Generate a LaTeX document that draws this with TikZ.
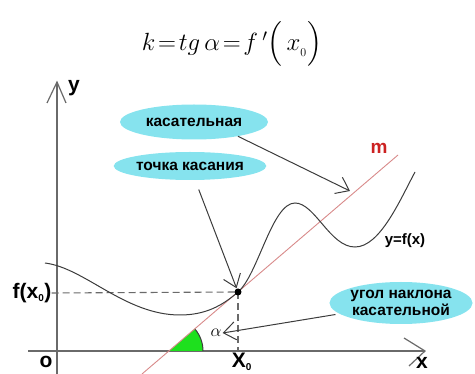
\documentclass[tikz,border=0pt]{standalone}
\usepackage{fontspec}
\usepackage{amsmath}
\usetikzlibrary{arrows.meta, positioning, shapes.geometric}
\newfontfamily\labfont{Liberation Sans}
\definecolor{CloudCyan}{HTML}{86E3EE}
\definecolor{AxisGray}{HTML}{6A6A6A}
\definecolor{CurveGray}{HTML}{3C3C3C}
\definecolor{TangentRed}{HTML}{D88A8A}
\definecolor{LabelRed}{HTML}{CC2222}
\definecolor{AngleGreen}{HTML}{1EE01E}

\begin{document}
\begin{tikzpicture}[x=1pt, y=-1pt,
  cloud/.style={ellipse, fill=CloudCyan, inner sep=0pt, align=center,
    font=\labfont\bfseries\fontsize{15.5}{17}\selectfont},
  axislbl/.style={inner sep=0pt, font=\labfont\bfseries\fontsize{21}{21}\selectfont},
  axis/.style={draw=AxisGray, line width=1.2pt},
  pointer/.style={draw=CurveGray, line width=1pt, -{Straight Barb[length=12pt,width=18pt]}},
]
\useasboundingbox (0,0) rectangle (475,374);

% --- formula ---
\node[inner sep=0pt] (formula) at (232,44) {\fontsize{25}{28}\selectfont
  $k\!=\!tg\,\alpha\!=\!f\,'\Big(\,x_{_0}\Big)$};

% --- axes ---
\coordinate (ybot) at (57,374);
\coordinate (ytop) at (57,82);
\coordinate (xlft) at (28,351);
\coordinate (xrgt) at (425,351);
\draw[axis] (ybot) -- (ytop);
\draw[axis] (47,103) -- (ytop) -- (66,103);
\draw[axis] (xlft) -- (xrgt);
\draw[axis] (404,338) -- (xrgt) -- (409,366);
\node[axislbl] (ylbl) at (74,88) {y};
\node[axislbl] (olbl) at (46,362) {o};
\node[axislbl] (xlbl) at (422,363) {x};
\node[axislbl] (x0lbl) at (242,362) {X\textsubscript{\fontsize{10}{10}\selectfont 0}};
\node[axislbl] (fx0lbl) at (32,293) {f(x\textsubscript{\fontsize{10}{10}\selectfont 0})};

% --- angle at the tangent ---
\coordinate (cross) at (169,351);
\fill[AngleGreen] (cross) -- (203,351) arc[start angle=0, end angle=-40.6, radius=34] -- cycle;
\draw[CurveGray, line width=1pt] (203,351) arc[start angle=0, end angle=-40.6, radius=34];
\node[inner sep=1pt, font=\fontsize{19}{19}\selectfont] (alpha) at (216,333) {$\alpha$};

% --- tangent line m ---
\draw[TangentRed, line width=0.9pt] (142,374) -- (398,155);
\node[text=LabelRed, inner sep=0pt, font=\labfont\bfseries\fontsize{19}{19}\selectfont] (mlbl) at (379,148) {m};

% --- dashed guides ---
\coordinate (pt) at (238,292);
\draw[AxisGray, line width=1.1pt, dash pattern=on 7pt off 4pt] (fx0lbl.east) -- (pt);
\draw[AxisGray, line width=1.1pt, dash pattern=on 7pt off 4pt] (pt) -- (238,351);

% --- curve y=f(x) ---
\draw[CurveGray, line width=1pt] (45,263)
  .. controls (85,268) and (125,315) .. (180,315)
  .. controls (205,315) and (222,306) .. (pt)
  .. controls (258,275) and (272,203) .. (295,203)
  .. controls (315,203) and (330,247) .. (355,247)
  .. controls (380,247) and (400,200) .. (415,172);
\fill[black] (pt) circle (3.5);
\node[inner sep=0pt, font=\labfont\bfseries\fontsize{15}{15}\selectfont] (flbl) at (405,241) {y=f(x)};

% --- call-outs ---
\node[cloud, minimum width=148pt, minimum height=35pt] (kas) at (194,122) {касательная};
\node[cloud, minimum width=144pt, minimum height=28pt] (tochka) at (190,166) {точка касания};
\node[cloud, minimum width=138pt, minimum height=42pt] (ugol) at (401,303) {угол наклона\\касательной};

\coordinate (mtip) at (350,191);
\draw[pointer] (kas.-18) -- (mtip);
\draw[pointer, shorten <=10pt, shorten >=4pt] (tochka.-70) -- (pt);
\draw[pointer, shorten <=4pt] (ugol.190) -- (alpha.east);

\end{tikzpicture}
\end{document}
